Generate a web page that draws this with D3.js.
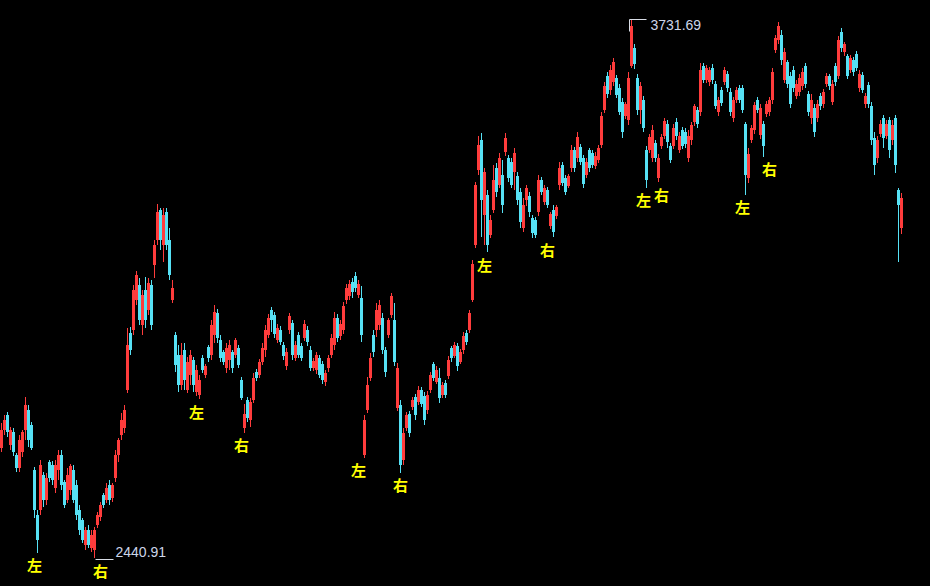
<!DOCTYPE html>
<html><head><meta charset="utf-8">
<script src="https://cdn.jsdelivr.net/npm/d3@7"></script>
<style>html,body{margin:0;padding:0;background:#000;overflow:hidden}</style>
</head><body>
<svg id="chart" width="930" height="586"></svg>
<script>
// [open, high, low, close]
const ohlc = [
[2705,2765,2695,2748],[2748,2784,2736,2772],[2784,2791,2731,2743],[2712,2755,2700,2748],[2743,2753,2686,2695],
[2688,2693,2647,2657],[2657,2736,2647,2724],[2695,2748,2683,2743],[2748,2827,2724,2808],[2796,2808,2707,2724],
[2760,2767,2700,2705],[2652,2659,2537,2556],[2544,2556,2453,2484],[2556,2676,2544,2664],[2640,2647,2563,2580],
[2580,2645,2568,2633],[2671,2676,2623,2633],[2664,2674,2616,2628],[2609,2676,2597,2664],[2652,2700,2628,2688],
[2688,2700,2604,2616],[2623,2628,2561,2568],[2580,2657,2573,2640],[2604,2666,2592,2662],[2652,2664,2573,2580],
[2616,2628,2532,2544],[2556,2568,2496,2508],[2532,2537,2477,2484],[2472,2515,2460,2508],[2508,2520,2465,2472],
[2465,2508,2455,2496],[2460,2515,2440.91,2508],[2520,2551,2513,2544],[2539,2575,2530,2568],[2592,2597,2561,2568],
[2580,2621,2573,2609],[2616,2628,2568,2580],[2585,2621,2575,2616],[2633,2700,2623,2688],[2688,2729,2671,2724],
[2736,2789,2724,2772],[2753,2808,2741,2796],[2844,2993,2837,2952],[2981,2995,2928,2940],[2988,3096,2976,3084],
[3060,3130,3048,3120],[3096,3113,3000,3012],[3000,3084,2976,3072],[3084,3115,2993,3012],[3036,3113,3024,3101],
[3096,3108,2988,3000],[3144,3204,3113,3192],[3204,3290,3192,3271],[3276,3281,3180,3204],[3192,3281,3151,3264],
[3271,3281,3180,3192],[3204,3233,3108,3120],[3060,3108,3053,3089],[2976,2983,2887,2904],[2928,2952,2839,2856],
[2856,2957,2844,2928],[2940,2957,2844,2868],[2844,2923,2837,2911],[2880,2940,2856,2928],[2916,2923,2839,2856],
[2839,2904,2830,2892],[2832,2880,2822,2868],[2921,2928,2885,2892],[2880,2906,2873,2902],[2947,2952,2911,2921],
[2928,3012,2916,3000],[2976,3048,2957,3031],[3029,3038,2957,2969],[2964,2976,2911,2921],[2935,2940,2904,2911],
[2897,2957,2885,2945],[2916,2964,2892,2952],[2935,2940,2885,2897],[2928,2969,2921,2964],[2945,2952,2897,2904],
[2868,2875,2820,2825],[2753,2810,2741,2786],[2820,2827,2767,2777],[2772,2825,2755,2815],[2820,2885,2813,2873],
[2887,2894,2866,2873],[2880,2918,2873,2911],[2911,2957,2904,2945],[2940,3000,2923,2988],[2976,3026,2969,3017],
[3036,3043,2982,3012],[3024,3031,2969,2978],[2964,3002,2957,2993],[2988,2998,2952,2959],[2952,2959,2916,2926],
[2902,2945,2892,2935],[2988,3029,2978,3022],[3005,3012,2916,2928],[2921,2962,2914,2952],[2976,2983,2921,2928],
[2950,2957,2914,2921],[2969,3012,2962,3002],[2988,2998,2950,2959],[2940,2950,2890,2897],[2897,2921,2890,2914],
[2892,2935,2882,2928],[2921,2928,2873,2880],[2906,2914,2858,2868],[2863,2892,2854,2885],[2897,2928,2887,2921],
[2928,2978,2921,2969],[2952,3031,2940,3017],[3017,3026,2959,2969],[2974,3012,2964,3002],[2988,3055,2978,3046],
[3060,3098,3050,3089],[3070,3108,3060,3098],[3103,3113,3065,3079],[3118,3127,3079,3089],[3072,3108,3065,3098],
[3065,3094,2959,2976],[2688,2784,2681,2772],[2796,2875,2789,2856],[2873,2933,2866,2921],[2976,2988,2923,2935],
[2988,3053,2971,3036],[3000,3060,2988,3048],[3017,3029,2930,2940],[2940,2947,2875,2887],[2976,3017,2969,3012],
[3024,3077,3017,3070],[3012,3053,2902,2911],[2801,2909,2794,2897],[2808,2820,2645,2664],[2676,2753,2664,2741],
[2753,2791,2746,2784],[2786,2794,2731,2741],[2803,2827,2796,2820],[2827,2834,2772,2784],[2815,2854,2808,2844],
[2844,2851,2803,2810],[2830,2839,2760,2772],[2796,2842,2786,2832],[2844,2887,2837,2880],[2906,2911,2866,2873],
[2863,2902,2858,2892],[2873,2897,2813,2825],[2832,2863,2825,2856],[2861,2868,2825,2832],[2878,2926,2870,2916],
[2945,2950,2911,2921],[2926,2959,2921,2952],[2950,2957,2890,2902],[2911,2942,2906,2935],[2940,2983,2930,2974],
[2981,2988,2952,2959],[2988,3036,2981,3029],[3060,3156,3055,3146],[3192,3343,3185,3336],[3372,3454,3360,3432],
[3444,3461,3211,3300],[3264,3377,3192,3367],[3312,3324,3175,3192],[3216,3264,3209,3252],[3276,3384,3269,3348],
[3377,3389,3307,3319],[3336,3413,3329,3401],[3360,3396,3269,3288],[3415,3461,3406,3449],[3401,3408,3343,3353],
[3391,3401,3329,3336],[3367,3425,3324,3413],[3358,3367,3288,3300],[3319,3329,3233,3247],[3233,3305,3223,3288],
[3300,3336,3286,3329],[3310,3319,3259,3271],[3257,3264,3209,3221],[3252,3259,3209,3216],[3271,3360,3262,3348],
[3348,3355,3312,3319],[3295,3336,3288,3329],[3324,3331,3281,3288],[3238,3271,3230,3266],[3276,3288,3211,3223],
[3262,3288,3254,3283],[3336,3391,3324,3377],[3384,3391,3334,3341],[3353,3360,3312,3319],[3334,3362,3329,3358],
[3377,3432,3367,3420],[3420,3427,3367,3377],[3401,3463,3391,3451],[3427,3434,3384,3391],[3401,3408,3329,3338],
[3360,3401,3353,3391],[3420,3425,3367,3377],[3413,3420,3377,3384],[3382,3415,3374,3406],[3396,3432,3389,3425],
[3432,3511,3425,3502],[3516,3583,3509,3574],[3598,3607,3545,3554],[3564,3624,3552,3612],[3583,3641,3574,3631],
[3593,3600,3545,3552],[3569,3578,3504,3511],[3535,3545,3449,3463],[3502,3535,3494,3530],[3492,3607,3480,3593],
[3622,3731.69,3617,3718],[3665,3674,3614,3626],[3593,3602,3504,3516],[3516,3583,3482,3574],[3540,3550,3463,3473],
[3420,3430,3329,3348],[3420,3458,3413,3451],[3401,3480,3391,3468],[3437,3444,3391,3401],[3353,3410,3343,3401],
[3430,3458,3422,3451],[3454,3497,3446,3490],[3482,3492,3425,3439],[3430,3437,3389,3396],[3430,3482,3422,3473],
[3487,3497,3444,3454],[3420,3463,3413,3454],[3468,3475,3422,3430],[3463,3473,3425,3434],[3401,3468,3391,3454],
[3444,3487,3432,3480],[3487,3530,3478,3526],[3516,3523,3473,3482],[3511,3629,3502,3612],[3622,3629,3581,3588],
[3588,3624,3581,3617],[3583,3619,3574,3612],[3617,3626,3578,3588],[3578,3586,3518,3526],[3511,3547,3502,3540],
[3564,3571,3526,3533],[3583,3619,3576,3612],[3602,3610,3559,3569],[3559,3569,3502,3511],[3497,3547,3487,3540],
[3540,3571,3533,3564],[3569,3576,3533,3540],[3569,3576,3509,3516],[3482,3487,3312,3360],[3353,3425,3341,3410],
[3444,3480,3437,3473],[3468,3535,3458,3528],[3540,3547,3509,3516],[3456,3530,3446,3521],[3482,3490,3403,3430],
[3506,3538,3499,3530],[3511,3547,3502,3540],[3540,3617,3530,3607],[3660,3696,3653,3689],[3684,3727,3674,3718],
[3696,3708,3624,3636],[3588,3665,3581,3655],[3631,3636,3569,3578],[3598,3607,3521,3530],[3612,3622,3559,3569],
[3550,3588,3542,3578],[3559,3602,3550,3593],[3574,3617,3564,3607],[3622,3629,3569,3578],[3554,3562,3502,3511],
[3497,3554,3482,3540],[3521,3530,3451,3463],[3497,3540,3487,3530],[3550,3557,3516,3526],[3530,3566,3521,3559],
[3578,3605,3571,3598],[3598,3602,3564,3574],[3535,3588,3528,3578],[3622,3629,3574,3583],[3598,3694,3590,3684],
[3703,3713,3655,3665],[3655,3679,3646,3674],[3646,3650,3590,3598],[3612,3648,3605,3641],[3636,3643,3598,3607],
[3650,3658,3610,3617],[3569,3612,3559,3602],[3600,3607,3557,3564],[3530,3557,3521,3550],[3576,3583,3521,3530],
[3526,3535,3432,3444],[3449,3463,3360,3384],[3401,3454,3389,3444],[3458,3492,3451,3482],[3497,3504,3425,3449],
[3454,3492,3446,3482],[3492,3499,3401,3420],[3444,3492,3432,3480],[3497,3504,3365,3384],[3324,3329,3151,3288],
[3233,3317,3218,3305]
];
const labelIndex = [11, 33, 65, 80, 119, 133, 161, 182, 214, 220, 247, 256];
const labelText = ["左","右","左","右","左","右","左","右","左","右","左","右"];

const upColor = "#ff3c3c", downColor = "#56e1f5";
const W = 930, H = 586;
const svg = d3.select("#chart");
svg.append("rect").attr("width", W).attr("height", H).attr("fill", "#000");

const x = d3.scaleBand().domain(d3.range(ohlc.length))
  .range([0, ohlc.length * 3]).paddingInner(0.33).paddingOuter(0.165);
const y = d3.scaleLinear()
  .domain([d3.min(ohlc, d => d[2]), d3.max(ohlc, d => d[1])])
  .range([558, 20]);
const cx = i => x(i) + x.bandwidth() / 2;
const col = d => d[3] >= d[0] ? upColor : downColor;

const g = svg.append("g").attr("shape-rendering", "crispEdges");
const c = g.selectAll("g.c").data(ohlc).join("g").attr("class", "c");
c.append("rect")
  .attr("x", (d, i) => Math.round(cx(i)) - 1).attr("width", 1)
  .attr("y", d => y(d[1])).attr("height", d => Math.max(1, y(d[2]) - y(d[1])))
  .attr("fill", col);
c.append("rect")
  .attr("x", (d, i) => x(i)).attr("width", x.bandwidth())
  .attr("y", d => y(Math.max(d[0], d[3])))
  .attr("height", d => Math.max(1, Math.abs(y(d[0]) - y(d[3]))))
  .attr("fill", col);

// labels under the local lows
labelIndex.forEach((idx, k) => {
  const lo = d3.min(ohlc.slice(Math.max(0, idx - 2), idx + 3), d => d[2]);
  svg.append("text")
    .attr("x", cx(idx)).attr("y", y(lo) + 12)
    .attr("text-anchor", "middle").attr("dominant-baseline", "central")
    .attr("fill", "#ffff00")
    .attr("font-family", "'Noto Sans CJK SC', sans-serif")
    .attr("font-size", 15).attr("font-weight", "bold")
    .text(labelText[k]);
});

// max / min annotations
const iMax = d3.maxIndex(ohlc, d => d[1]);
const iMin = d3.minIndex(ohlc, d => d[2]);
const hi = ohlc[iMax][1], lo = ohlc[iMin][2];
const annColor = "#d8dde6", txtColor = "#cdd6ea";
const xm = Math.round(x(iMax)) - 0.5;
svg.append("path")
  .attr("d", `M${xm},${Math.round(y(hi)) + 11.5} V${Math.round(y(hi)) - 0.5} H${xm + 17}`)
  .attr("fill", "none").attr("stroke", annColor).attr("stroke-width", 1);
svg.append("text").attr("x", xm + 21).attr("y", y(hi) + 10)
  .attr("fill", txtColor).attr("font-family", "'Liberation Sans', Arial, sans-serif")
  .attr("font-size", 14).text(hi.toFixed(2));
const xn = Math.round(cx(iMin)) + 0.5;
svg.append("path")
  .attr("d", `M${xn},${Math.round(y(lo)) + 1.5} H${xn + 18}`)
  .attr("fill", "none").attr("stroke", annColor).attr("stroke-width", 1);
svg.append("text").attr("x", xn + 20).attr("y", y(lo) - 1)
  .attr("fill", txtColor).attr("font-family", "'Liberation Sans', Arial, sans-serif")
  .attr("font-size", 14).text(lo.toFixed(2));
</script>
</body></html>
